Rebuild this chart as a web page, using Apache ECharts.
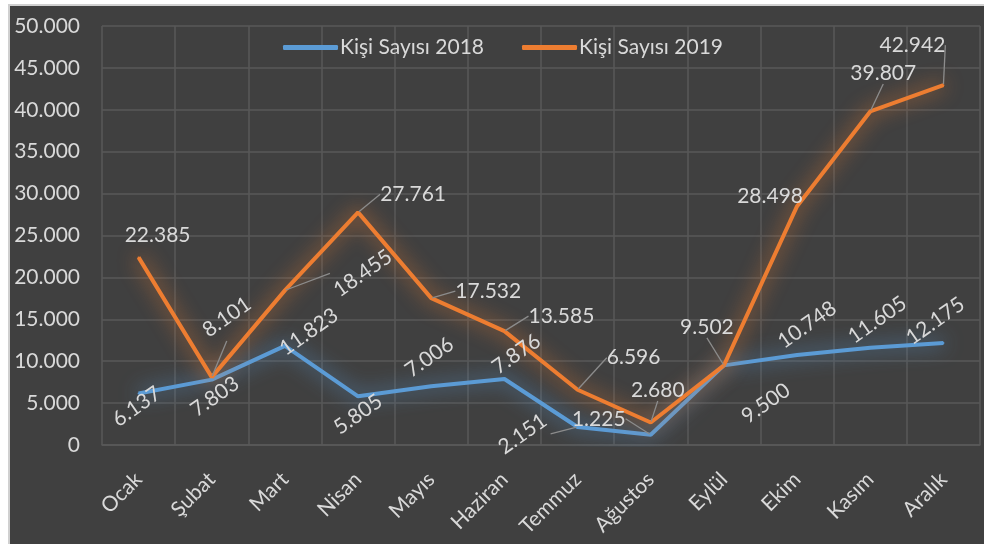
<!DOCTYPE html>
<html>
<head>
<meta charset="utf-8">
<script src="https://cdn.jsdelivr.net/npm/echarts@6/dist/echarts.min.js"></script>
<style>
  html, body { margin: 0; padding: 0; background: #ffffff; overflow: hidden; }
  .chart-box {
    position: absolute;
    left: 8px;
    top: 4px;
    width: 976px;
    height: 540px;
    border-left: 2px solid #d0d0d0;
    border-top: 2px solid #d0d0d0;
    background: #404040;
  }
  #chart { width: 976px; height: 540px; }
</style>
</head>
<body>
<div class="chart-box"><div id="chart"></div></div>
<script>
const MONTHS = ['Ocak', 'Şubat', 'Mart', 'Nisan', 'Mayıs', 'Haziran', 'Temmuz', 'Ağustos', 'Eylül', 'Ekim', 'Kasım', 'Aralık'];
const VISITORS_2018 = [6137, 7803, 11823, 5805, 7006, 7876, 2151, 1225, 9500, 10748, 11605, 12175];
const VISITORS_2019 = [22385, 8101, 18455, 27761, 17532, 13585, 6596, 2680, 9502, 28498, 39807, 42942];
const NAME_2018 = 'Kişi Sayısı 2018';
const NAME_2019 = 'Kişi Sayısı 2019';

// label placement (offset of label centre from the point, rotation, leader line)
const SHIFT_2018 = [[-2, 13], [3, 17], [24, -14], [0, 18], [-2, -29], [12, -25], [-55, 7], [-52, -16], [42, 38], [10, -30], [7, -28], [-8, -22]];
const ROT_2018 = [35, 35, 35, 35, 35, 35, 35, 0, 35, 35, 35, 35];
const LEAD_2018 = [0, 0, 0, 0, 0, 0, 1, 1, 0, 0, 0, 0];
const SHIFT_2019 = [[19, -22], [15, -60], [78, -17], [55, -18], [57, -7], [57, -15], [56, -32], [7, -32], [-17, -38], [-27, -10], [13, -38], [-31, -40]];
const ROT_2019 = [0, 35, 35, 0, 0, 0, 0, 0, 0, 0, 0, 0];
const LEAD_2019 = [0, 1, 1, 1, 1, 1, 1, 1, 1, 0, 1, 1];

const TEXT = '#d9d9d9';
const GRID_LINE = '#595959';
const BLUE = '#5b9bd5';
const ORANGE = '#ed7d31';
const FONT = 'Lato';

const fmt = v => String(v).replace(/\B(?=(\d{3})+(?!\d))/g, '.');

function items(values, rot, lead) {
  return values.map((v, i) => ({
    value: v,
    label: { rotate: rot[i] },
    labelLine: { show: !!lead[i] }
  }));
}

// the label offset is turned with the label, so turn it back first
function unrotate(shift, deg) {
  let a = deg * Math.PI / 180;
  let x = shift[0], y = shift[1];
  return { dx: x * Math.cos(a) - y * Math.sin(a), dy: x * Math.sin(a) + y * Math.cos(a) };
}

function makeSeries(name, values, color, shift, rot, lead) {
  return {
    name: name,
    type: 'line',
    data: items(values, rot, lead),
    symbol: 'circle',
    symbolSize: 2,
    itemStyle: { color: color },
    lineStyle: { color: color, width: 4, shadowColor: color, shadowBlur: 20 },
    label: {
      show: true,
      position: 'inside',
      align: 'center',
      verticalAlign: 'middle',
      color: TEXT,
      fontFamily: FONT,
      fontSize: 21,
      formatter: p => fmt(p.value)
    },
    labelLine: {
      show: false,
      lineStyle: { color: '#8c8c8c', width: 1.3 }
    },
    labelLayout: p => unrotate(shift[p.dataIndex], rot[p.dataIndex]),
    emphasis: { disabled: true },
    z: 3
  };
}

let chart = echarts.init(document.getElementById('chart'));
let option = {
  animation: false,
  backgroundColor: '#404040',
  textStyle: { fontFamily: FONT },
  grid: {
    left: 92,
    top: 20,
    right: 6,
    bottom: 101,
    containLabel: false
  },
  legend: {
    top: 26,
    left: 268,
    itemWidth: 55,
    itemHeight: 5,
    itemGap: 38,
    icon: 'roundRect',
    textStyle: { color: TEXT, fontSize: 21, fontFamily: FONT, padding: [0, 0, 0, -3] },
    data: [NAME_2018, NAME_2019]
  },
  xAxis: {
    type: 'category',
    data: MONTHS,
    boundaryGap: true,
    axisLine: { show: true, lineStyle: { color: GRID_LINE, width: 1.5 } },
    axisTick: { show: false },
    splitLine: { show: true, lineStyle: { color: GRID_LINE, width: 1.5 } },
    axisLabel: {
      color: TEXT,
      fontSize: 21,
      fontFamily: FONT,
      rotate: 45,
      margin: 31,
      interval: 0
    }
  },
  yAxis: {
    type: 'value',
    min: 0,
    max: 50000,
    interval: 5000,
    axisLine: { show: false },
    axisTick: { show: false },
    splitLine: { lineStyle: { color: GRID_LINE, width: 1.5 } },
    axisLabel: {
      color: TEXT,
      fontSize: 21,
      fontFamily: FONT,
      margin: 22,
      formatter: v => fmt(v)
    }
  },
  series: [
    makeSeries(NAME_2018, VISITORS_2018, BLUE, SHIFT_2018, ROT_2018, LEAD_2018),
    makeSeries(NAME_2019, VISITORS_2019, ORANGE, SHIFT_2019, ROT_2019, LEAD_2019)
  ]
};
chart.setOption(option);
window.addEventListener('resize', () => { chart.resize(); });
</script>
</body>
</html>
